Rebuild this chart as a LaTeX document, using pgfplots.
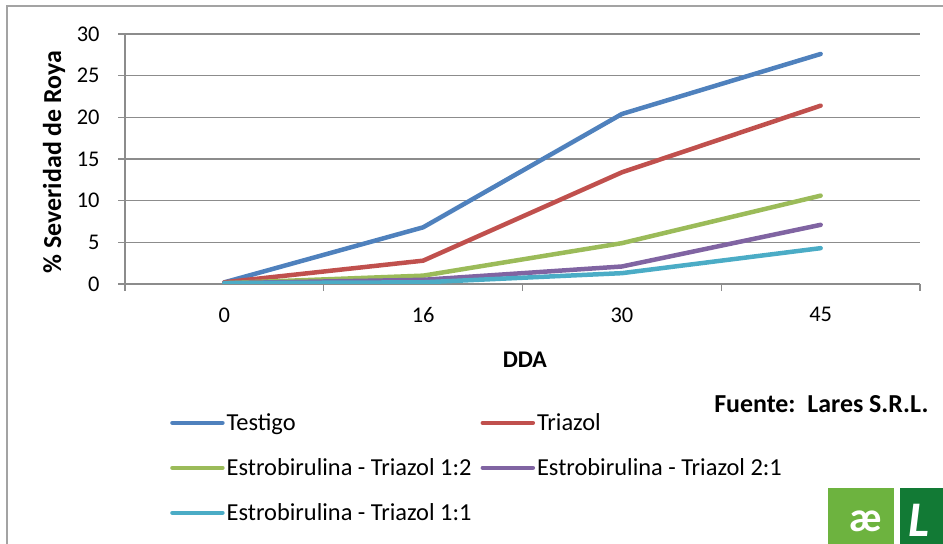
\documentclass[border=0pt]{standalone}
\usepackage{pgfplots}
\pgfplotsset{compat=1.18}
\usepackage{fontspec}
\setmainfont{Carlito}
\definecolor{cBlue}{HTML}{4F81BD}
\definecolor{cRed}{HTML}{C0504D}
\definecolor{cGreen}{HTML}{9BBB59}
\definecolor{cPurple}{HTML}{8064A2}
\definecolor{cCyan}{HTML}{4BACC6}
\definecolor{cGrid}{HTML}{8C8C8C}
\definecolor{logoLight}{HTML}{6DB33F}
\definecolor{logoDark}{HTML}{127A35}
\begin{document}
\begin{tikzpicture}[x=1bp,y=1bp]
\useasboundingbox (0,0) rectangle (943,544);
\draw[cGrid!80, line width=1.3bp] (7,0) -- (7,538) -- (943,538);
\begin{axis}[
  at={(125bp,260bp)}, anchor=south west,
  scale only axis, width=795bp, height=250bp,
  xmin=-0.5, xmax=3.5, ymin=0, ymax=30,
  xtick={0,1,2,3}, xticklabels={0,16,30,45},
  minor xtick={-0.5,0.5,1.5,2.5,3.5},
  major x tick style={draw=none},
  ytick={0,5,...,30},
  axis x line=bottom, axis y line=left,
  axis line style={-, cGrid, line width=1.2bp},
  tick align=outside,
  tick style={cGrid, line width=1.2bp},
  major tick length=7bp, minor tick length=7bp,
  ymajorgrids, grid style={cGrid, line width=1.2bp},
  /pgf/number format/assume math mode=true,
  ticklabel style={font=\fontsize{22.5}{26}\selectfont},
  xticklabel style={yshift=-13bp},
  yticklabel style={xshift=-15bp},
  xlabel={DDA}, ylabel={\% Severidad de Roya},
  xlabel style={font=\bfseries\fontsize{24}{28}\selectfont, at={(axis description cs:0.503,-0.304)}, anchor=center},
  ylabel style={font=\bfseries\fontsize{26}{30}\selectfont, at={(axis description cs:-0.0893,0.488)}, anchor=center},
  legend columns=2,
  legend cell align=left,
  legend style={draw=none, fill=none, inner sep=0pt,
    font=\fontsize{24.5}{28}\selectfont,
    at={(axis description cs:0.0566,-0.51)}, anchor=north west,
    /tikz/every even column/.append style={column sep=7bp},
    row sep=22.5bp},
  legend image code/.code={\draw[#1, line width=4.5bp, line cap=round] (0bp,0bp) -- (50bp,0bp);},
  every axis plot/.append style={line width=4.5bp, line cap=round, line join=round, mark=none},
]
\addplot[cBlue] coordinates {(0,0.2) (1,6.8) (2,20.4) (3,27.6)};
\addlegendentry{Testigo}
\addplot[cRed] coordinates {(0,0.2) (1,2.8) (2,13.4) (3,21.4)};
\addlegendentry{Triazol}
\addplot[cGreen] coordinates {(0,0.1) (1,1.0) (2,4.9) (3,10.6)};
\addlegendentry{Estrobirulina - Triazol 1:2}
\addplot[cPurple] coordinates {(0,0.1) (1,0.5) (2,2.1) (3,7.1)};
\addlegendentry{Estrobirulina - Triazol 2:1}
\addplot[cCyan] coordinates {(0,0.1) (1,0.2) (2,1.3) (3,4.3)};
\addlegendentry{Estrobirulina - Triazol 1:1}
\end{axis}
\node[anchor=east, font=\bfseries\fontsize{26}{30}\selectfont] at (932,140) {Fuente:\ \ Lares S.R.L.};
\fill[logoLight] (828,0) rectangle (894,56);
\node[white, inner sep=0pt, font=\bfseries\fontsize{42}{44}\selectfont, anchor=base] at (866,12) {æ};
\fill[logoDark] (900,0) rectangle (943,56);
\node[white, anchor=base west, inner sep=0pt, font=\bfseries\itshape\fontsize{50}{52}\selectfont] at (908,7) {L};
\end{tikzpicture}
\end{document}
